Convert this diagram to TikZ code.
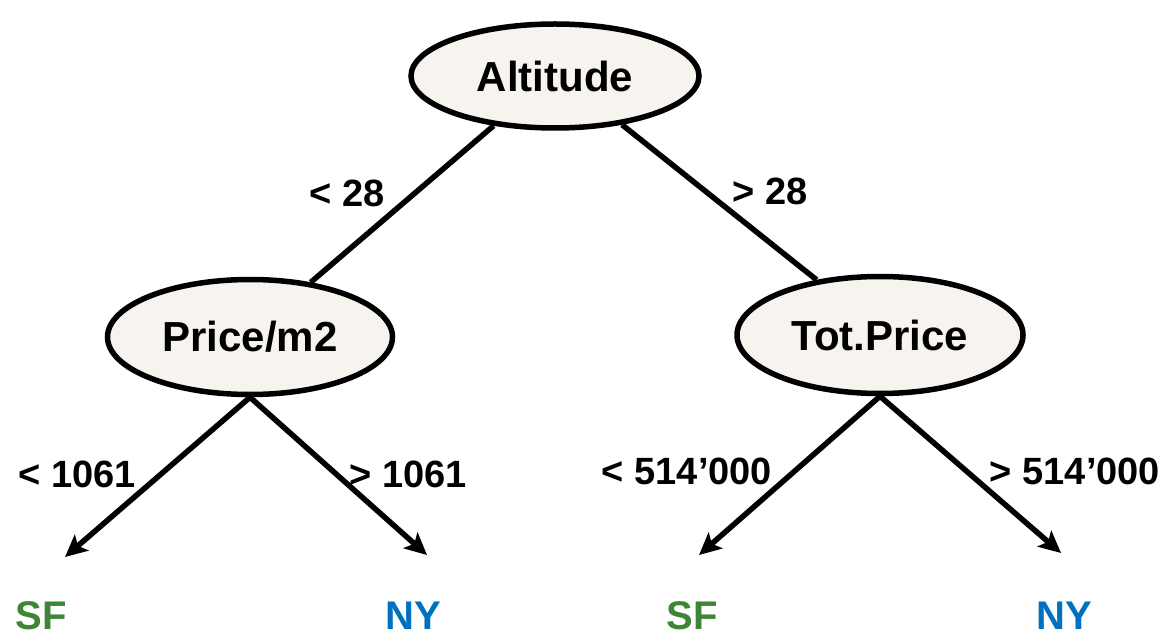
\documentclass[tikz,border=0pt]{standalone}
\usepackage{fontspec}
\setmainfont{Liberation Sans}
\usetikzlibrary{shapes.geometric,arrows.meta}
\definecolor{nodefill}{HTML}{F7F3EE}
\definecolor{sfgreen}{HTML}{3E8536}
\definecolor{nyblue}{HTML}{0070C0}
\begin{document}
\begin{tikzpicture}[x=1pt,y=-1pt,
  splitnode/.style={ellipse,draw=black,line width=5.5pt,fill=nodefill,inner sep=0pt,
    font=\fontsize{42}{48}\selectfont\bfseries},
  edgelabel/.style={inner sep=0pt,font=\fontsize{38}{44}\selectfont\bfseries},
  leafnode/.style={inner sep=0pt,font=\fontsize{40}{46}\selectfont\bfseries},
  branch/.style={line width=5.5pt,draw=black},
  arrowbranch/.style={branch,-{Stealth[length=22pt,width=21pt,inset=5pt]}}]
\useasboundingbox (0,0) rectangle (1161,636);
\node[splitnode,minimum width=288pt,minimum height=104pt] (alt) at (555,76) {Altitude};
\node[splitnode,minimum width=285pt,minimum height=115pt] (price) at (250,337) {Price/m2};
\node[splitnode,minimum width=286pt,minimum height=117pt] (tot) at (880,335) {Tot.Price};
\draw[branch] (alt.219) -- (price.42.5);
\draw[branch] (alt.-36) -- (tot.139);
\coordinate (t1) at (65,557);
\coordinate (t2) at (427,555);
\coordinate (t3) at (699,555);
\coordinate (t4) at (1061,553);
\draw[arrowbranch] (price.south) -- (t1);
\draw[arrowbranch] (price.south) -- (t2);
\draw[arrowbranch] (tot.south) -- (t3);
\draw[arrowbranch] (tot.south) -- (t4);
\node[edgelabel] (l1) at (347,193) {< 28};
\node[edgelabel] (l2) at (770,191) {> 28};
\node[edgelabel] (l3) at (77,474) {< 1061};
\node[edgelabel] (l4) at (408,474) {> 1061};
\node[edgelabel] (l5) at (687,471) {< 514’000};
\node[edgelabel] (l6) at (1075,471) {> 514’000};
\node[leafnode,text=sfgreen] (sf1) at (41,616) {SF};
\node[leafnode,text=nyblue] (ny1) at (413,616) {NY};
\node[leafnode,text=sfgreen] (sf2) at (692,616) {SF};
\node[leafnode,text=nyblue] (ny2) at (1064,616) {NY};
\end{tikzpicture}
\end{document}
